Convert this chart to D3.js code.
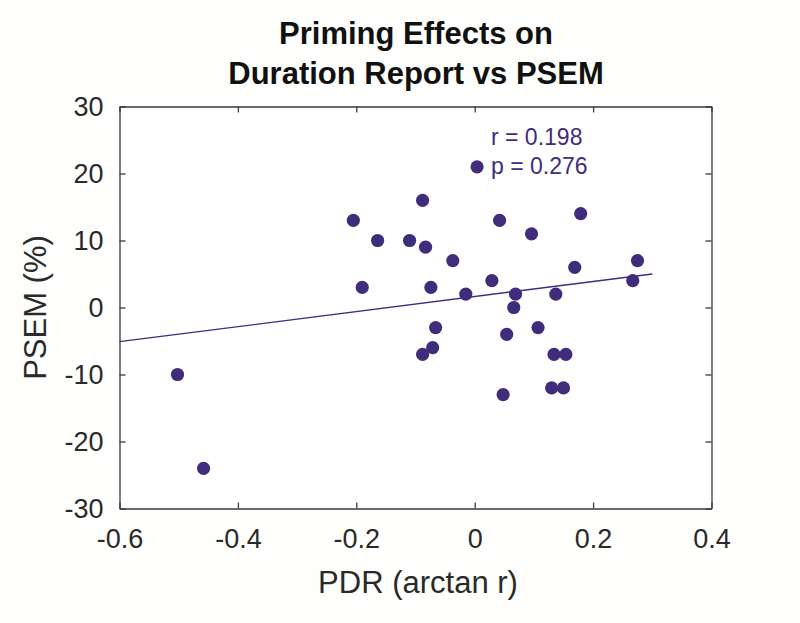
<!DOCTYPE html>
<html>
<head>
<meta charset="utf-8">
<script src="https://cdn.jsdelivr.net/npm/d3@7"></script>
<style>
  html, body { margin: 0; padding: 0; background: #fefefc; }
  svg { display: block; font-family: "Liberation Sans", Arial, Helvetica, sans-serif; }
</style>
</head>
<body>
<svg id="chart" width="800" height="623"></svg>
<script>
// ---- data ----
const pdr  = [-0.205, -0.164, -0.110, -0.190, -0.088, 0.004, -0.083, -0.037, -0.074, -0.015,
               0.029,  0.042,  0.096,  0.069,  0.066, 0.179,  0.137,  0.169,  0.275,  0.267,
              -0.502, -0.458, -0.066, -0.071, -0.088, 0.054,  0.107,  0.134,  0.154,  0.048,
               0.130,  0.150];
const psem = [13, 10, 10, 3, 16, 21, 9, 7, 3, 2,
              4, 13, 11, 2, 0, 14, 2, 6, 7, 4,
              -10, -24, -3, -6, -7, -4, -3, -7, -7, -13,
              -12, -12];
const fitX = [-0.6, 0.3];
const fitY = [-5.1, 5.0];
const xTicks = [-0.6, -0.4, -0.2, 0, 0.2, 0.4];
const yTicks = [-30, -20, -10, 0, 10, 20, 30];
const titleLines = ["Priming Effects on", "Duration Report vs PSEM"];
const statLines = ["r = 0.198", "p = 0.276"];
const xLabel = "PDR (arctan r)";
const yLabel = "PSEM (%)";

// ---- layout ----
const L = 119.5, R = 711.5, T = 106.5, B = 508.5;
const purple = "#3f2d7c";
const axisCol = "#3a3a3a";

const svg = d3.select("#chart");
const x = d3.scaleLinear().domain([-0.6, 0.4]).range([L, R]);
const y = d3.scaleLinear().domain([-30, 30]).range([B, T]);

const fmt = d => (d === 0 ? "0" : String(d));

// box
svg.append("rect").attr("x", L).attr("y", T).attr("width", R - L).attr("height", B - T)
  .attr("fill", "#ffffff").attr("stroke", "none");

// axes (ticks inward)
const tickLen = 6;
const gx = svg.append("g").attr("transform", `translate(0,${B})`)
  .call(d3.axisBottom(x).tickValues(xTicks).tickFormat(fmt).tickSizeInner(-tickLen).tickSizeOuter(0).tickPadding(20));
const gxt = svg.append("g").attr("transform", `translate(0,${T})`)
  .call(d3.axisTop(x).tickValues(xTicks).tickFormat("").tickSizeInner(-tickLen).tickSizeOuter(0));
const gy = svg.append("g").attr("transform", `translate(${L},0)`)
  .call(d3.axisLeft(y).tickValues(yTicks).tickFormat(fmt).tickSizeInner(-tickLen).tickSizeOuter(0).tickPadding(16));
const gyr = svg.append("g").attr("transform", `translate(${R},0)`)
  .call(d3.axisRight(y).tickValues(yTicks).tickFormat("").tickSizeInner(-tickLen).tickSizeOuter(0));

[gx, gxt, gy, gyr].forEach(g => {
  g.selectAll(".domain").attr("stroke", axisCol).attr("stroke-width", 1.3);
  g.selectAll(".tick line").attr("stroke", axisCol).attr("stroke-width", 1.3);
  g.selectAll(".tick text").attr("fill", "#2a2a2a").attr("font-size", 27)
    .attr("font-family", '"Liberation Sans", Arial, sans-serif');
});
gx.selectAll(".tick text").attr("dy", "0.71em");

// fit line
svg.append("line")
  .attr("x1", x(fitX[0])).attr("y1", y(fitY[0]))
  .attr("x2", x(fitX[1])).attr("y2", y(fitY[1]))
  .attr("stroke", purple).attr("stroke-width", 1.4);

// points
svg.append("g").selectAll("circle")
  .data(pdr.map((v, i) => [v, psem[i]]))
  .join("circle")
  .attr("cx", d => x(d[0])).attr("cy", d => y(d[1]))
  .attr("r", 6.6).attr("fill", purple);

// stats text
svg.append("g").selectAll("text").data(statLines).join("text")
  .attr("x", 491).attr("y", (d, i) => 145 + i * 29)
  .attr("fill", purple).attr("font-size", 23).text(d => d);

// title
svg.append("g").selectAll("text").data(titleLines).join("text")
  .attr("x", 416).attr("y", (d, i) => 44 + i * 40)
  .attr("text-anchor", "middle").attr("font-weight", "bold").attr("font-size", 31)
  .attr("fill", "#111").text(d => d);

// axis labels
svg.append("text").attr("x", 418).attr("y", 593)
  .attr("text-anchor", "middle").attr("font-size", 31).attr("fill", "#2a2a2a").text(xLabel);
svg.append("text").attr("transform", `translate(46,${(T + B) / 2}) rotate(-90)`)
  .attr("text-anchor", "middle").attr("font-size", 31).attr("fill", "#2a2a2a").text(yLabel);
</script>
</body>
</html>
